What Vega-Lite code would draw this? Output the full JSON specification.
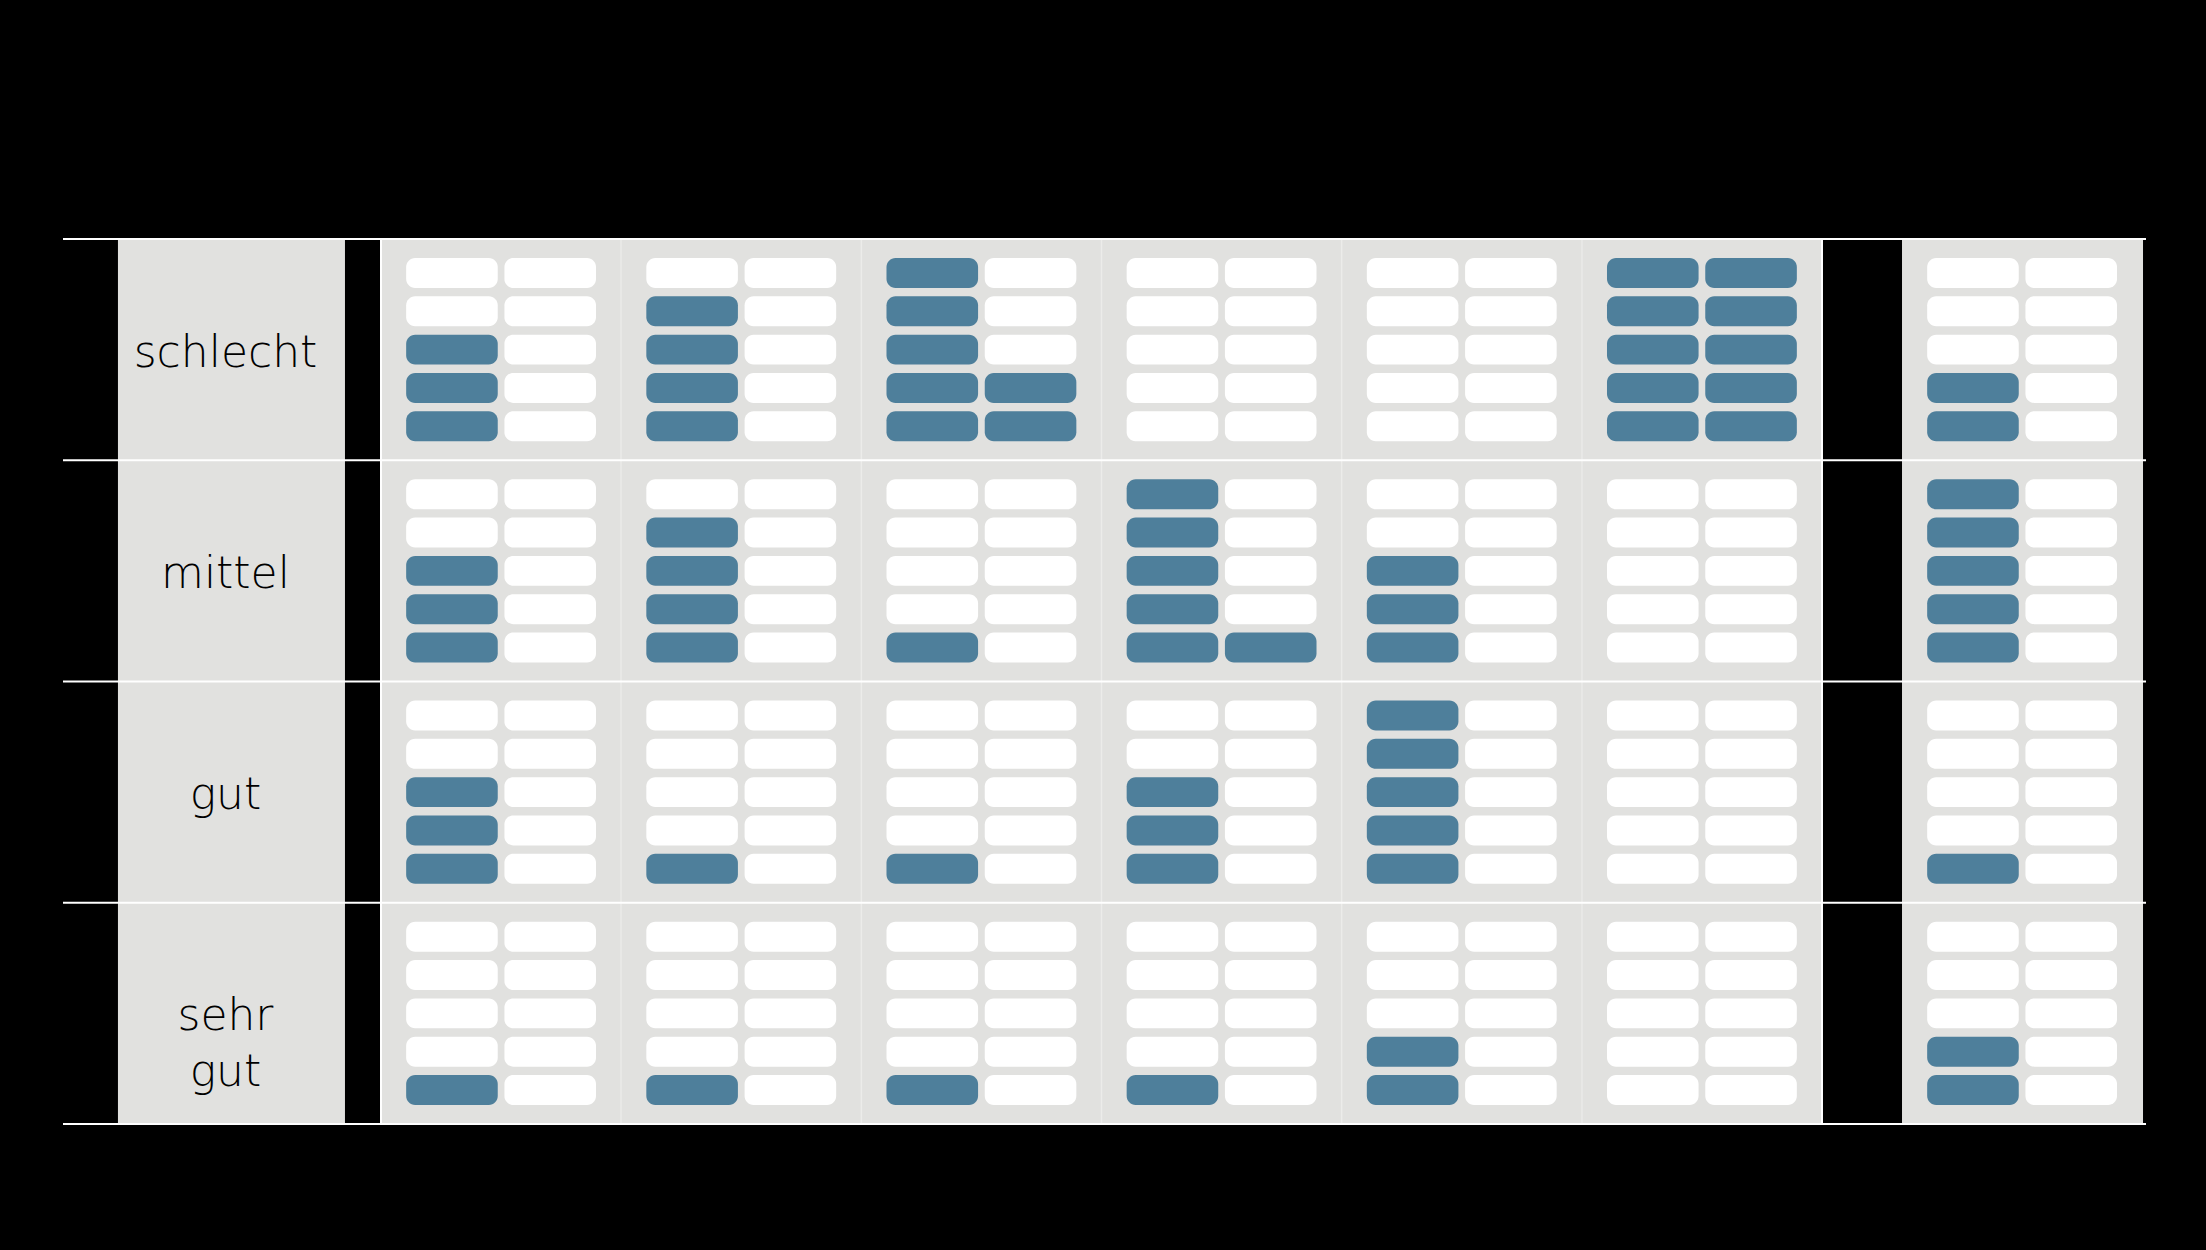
{
  "$schema": "https://vega.github.io/schema/vega-lite/v6.json",
  "background": "black",
  "padding": {"left": 23, "top": 35, "right": 59, "bottom": 38},
  "bounds": "flush",
  "spacing": 0,
  "title": {"text": "Anteil der österreichischen Gemeinden je Versorgungskategorie, 10% pro buntem Feld", "orient": "bottom", "anchor": "middle", "dx": -75, "offset": 42, "fontSize": 46, "font": "Liberation Sans Narrow, Roboto, sans-serif", "fontWeight": "normal", "color": "#000000"},
  "datasets": {
    "levels": [{"lvl": "schlecht"}, {"lvl": "mittel"}, {"lvl": "gut"}, {"lvl": "sehr gut"}],
    "pills": [
      {"cat":"Ärztinnen","lvl":"schlecht","col":1,"pos":1,"on":1},{"cat":"Ärztinnen","lvl":"schlecht","col":1,"pos":2,"on":1},{"cat":"Ärztinnen","lvl":"schlecht","col":1,"pos":3,"on":1},{"cat":"Ärztinnen","lvl":"schlecht","col":1,"pos":4,"on":0},{"cat":"Ärztinnen","lvl":"schlecht","col":1,"pos":5,"on":0},
      {"cat":"Ärztinnen","lvl":"schlecht","col":2,"pos":1,"on":0},{"cat":"Ärztinnen","lvl":"schlecht","col":2,"pos":2,"on":0},{"cat":"Ärztinnen","lvl":"schlecht","col":2,"pos":3,"on":0},{"cat":"Ärztinnen","lvl":"schlecht","col":2,"pos":4,"on":0},{"cat":"Ärztinnen","lvl":"schlecht","col":2,"pos":5,"on":0},
      {"cat":"Ärztinnen","lvl":"mittel","col":1,"pos":1,"on":1},{"cat":"Ärztinnen","lvl":"mittel","col":1,"pos":2,"on":1},{"cat":"Ärztinnen","lvl":"mittel","col":1,"pos":3,"on":1},{"cat":"Ärztinnen","lvl":"mittel","col":1,"pos":4,"on":0},{"cat":"Ärztinnen","lvl":"mittel","col":1,"pos":5,"on":0},
      {"cat":"Ärztinnen","lvl":"mittel","col":2,"pos":1,"on":0},{"cat":"Ärztinnen","lvl":"mittel","col":2,"pos":2,"on":0},{"cat":"Ärztinnen","lvl":"mittel","col":2,"pos":3,"on":0},{"cat":"Ärztinnen","lvl":"mittel","col":2,"pos":4,"on":0},{"cat":"Ärztinnen","lvl":"mittel","col":2,"pos":5,"on":0},
      {"cat":"Ärztinnen","lvl":"gut","col":1,"pos":1,"on":1},{"cat":"Ärztinnen","lvl":"gut","col":1,"pos":2,"on":1},{"cat":"Ärztinnen","lvl":"gut","col":1,"pos":3,"on":1},{"cat":"Ärztinnen","lvl":"gut","col":1,"pos":4,"on":0},{"cat":"Ärztinnen","lvl":"gut","col":1,"pos":5,"on":0},
      {"cat":"Ärztinnen","lvl":"gut","col":2,"pos":1,"on":0},{"cat":"Ärztinnen","lvl":"gut","col":2,"pos":2,"on":0},{"cat":"Ärztinnen","lvl":"gut","col":2,"pos":3,"on":0},{"cat":"Ärztinnen","lvl":"gut","col":2,"pos":4,"on":0},{"cat":"Ärztinnen","lvl":"gut","col":2,"pos":5,"on":0},
      {"cat":"Ärztinnen","lvl":"sehr gut","col":1,"pos":1,"on":1},{"cat":"Ärztinnen","lvl":"sehr gut","col":1,"pos":2,"on":0},{"cat":"Ärztinnen","lvl":"sehr gut","col":1,"pos":3,"on":0},{"cat":"Ärztinnen","lvl":"sehr gut","col":1,"pos":4,"on":0},{"cat":"Ärztinnen","lvl":"sehr gut","col":1,"pos":5,"on":0},
      {"cat":"Ärztinnen","lvl":"sehr gut","col":2,"pos":1,"on":0},{"cat":"Ärztinnen","lvl":"sehr gut","col":2,"pos":2,"on":0},{"cat":"Ärztinnen","lvl":"sehr gut","col":2,"pos":3,"on":0},{"cat":"Ärztinnen","lvl":"sehr gut","col":2,"pos":4,"on":0},{"cat":"Ärztinnen","lvl":"sehr gut","col":2,"pos":5,"on":0},

      {"cat":"Krankenhäuser","lvl":"schlecht","col":1,"pos":1,"on":1},{"cat":"Krankenhäuser","lvl":"schlecht","col":1,"pos":2,"on":1},{"cat":"Krankenhäuser","lvl":"schlecht","col":1,"pos":3,"on":1},{"cat":"Krankenhäuser","lvl":"schlecht","col":1,"pos":4,"on":1},{"cat":"Krankenhäuser","lvl":"schlecht","col":1,"pos":5,"on":0},
      {"cat":"Krankenhäuser","lvl":"schlecht","col":2,"pos":1,"on":0},{"cat":"Krankenhäuser","lvl":"schlecht","col":2,"pos":2,"on":0},{"cat":"Krankenhäuser","lvl":"schlecht","col":2,"pos":3,"on":0},{"cat":"Krankenhäuser","lvl":"schlecht","col":2,"pos":4,"on":0},{"cat":"Krankenhäuser","lvl":"schlecht","col":2,"pos":5,"on":0},
      {"cat":"Krankenhäuser","lvl":"mittel","col":1,"pos":1,"on":1},{"cat":"Krankenhäuser","lvl":"mittel","col":1,"pos":2,"on":1},{"cat":"Krankenhäuser","lvl":"mittel","col":1,"pos":3,"on":1},{"cat":"Krankenhäuser","lvl":"mittel","col":1,"pos":4,"on":1},{"cat":"Krankenhäuser","lvl":"mittel","col":1,"pos":5,"on":0},
      {"cat":"Krankenhäuser","lvl":"mittel","col":2,"pos":1,"on":0},{"cat":"Krankenhäuser","lvl":"mittel","col":2,"pos":2,"on":0},{"cat":"Krankenhäuser","lvl":"mittel","col":2,"pos":3,"on":0},{"cat":"Krankenhäuser","lvl":"mittel","col":2,"pos":4,"on":0},{"cat":"Krankenhäuser","lvl":"mittel","col":2,"pos":5,"on":0},
      {"cat":"Krankenhäuser","lvl":"gut","col":1,"pos":1,"on":1},{"cat":"Krankenhäuser","lvl":"gut","col":1,"pos":2,"on":0},{"cat":"Krankenhäuser","lvl":"gut","col":1,"pos":3,"on":0},{"cat":"Krankenhäuser","lvl":"gut","col":1,"pos":4,"on":0},{"cat":"Krankenhäuser","lvl":"gut","col":1,"pos":5,"on":0},
      {"cat":"Krankenhäuser","lvl":"gut","col":2,"pos":1,"on":0},{"cat":"Krankenhäuser","lvl":"gut","col":2,"pos":2,"on":0},{"cat":"Krankenhäuser","lvl":"gut","col":2,"pos":3,"on":0},{"cat":"Krankenhäuser","lvl":"gut","col":2,"pos":4,"on":0},{"cat":"Krankenhäuser","lvl":"gut","col":2,"pos":5,"on":0},
      {"cat":"Krankenhäuser","lvl":"sehr gut","col":1,"pos":1,"on":1},{"cat":"Krankenhäuser","lvl":"sehr gut","col":1,"pos":2,"on":0},{"cat":"Krankenhäuser","lvl":"sehr gut","col":1,"pos":3,"on":0},{"cat":"Krankenhäuser","lvl":"sehr gut","col":1,"pos":4,"on":0},{"cat":"Krankenhäuser","lvl":"sehr gut","col":1,"pos":5,"on":0},
      {"cat":"Krankenhäuser","lvl":"sehr gut","col":2,"pos":1,"on":0},{"cat":"Krankenhäuser","lvl":"sehr gut","col":2,"pos":2,"on":0},{"cat":"Krankenhäuser","lvl":"sehr gut","col":2,"pos":3,"on":0},{"cat":"Krankenhäuser","lvl":"sehr gut","col":2,"pos":4,"on":0},{"cat":"Krankenhäuser","lvl":"sehr gut","col":2,"pos":5,"on":0},

      {"cat":"Pflegeheime","lvl":"schlecht","col":1,"pos":1,"on":1},{"cat":"Pflegeheime","lvl":"schlecht","col":1,"pos":2,"on":1},{"cat":"Pflegeheime","lvl":"schlecht","col":1,"pos":3,"on":1},{"cat":"Pflegeheime","lvl":"schlecht","col":1,"pos":4,"on":1},{"cat":"Pflegeheime","lvl":"schlecht","col":1,"pos":5,"on":1},
      {"cat":"Pflegeheime","lvl":"schlecht","col":2,"pos":1,"on":1},{"cat":"Pflegeheime","lvl":"schlecht","col":2,"pos":2,"on":1},{"cat":"Pflegeheime","lvl":"schlecht","col":2,"pos":3,"on":0},{"cat":"Pflegeheime","lvl":"schlecht","col":2,"pos":4,"on":0},{"cat":"Pflegeheime","lvl":"schlecht","col":2,"pos":5,"on":0},
      {"cat":"Pflegeheime","lvl":"mittel","col":1,"pos":1,"on":1},{"cat":"Pflegeheime","lvl":"mittel","col":1,"pos":2,"on":0},{"cat":"Pflegeheime","lvl":"mittel","col":1,"pos":3,"on":0},{"cat":"Pflegeheime","lvl":"mittel","col":1,"pos":4,"on":0},{"cat":"Pflegeheime","lvl":"mittel","col":1,"pos":5,"on":0},
      {"cat":"Pflegeheime","lvl":"mittel","col":2,"pos":1,"on":0},{"cat":"Pflegeheime","lvl":"mittel","col":2,"pos":2,"on":0},{"cat":"Pflegeheime","lvl":"mittel","col":2,"pos":3,"on":0},{"cat":"Pflegeheime","lvl":"mittel","col":2,"pos":4,"on":0},{"cat":"Pflegeheime","lvl":"mittel","col":2,"pos":5,"on":0},
      {"cat":"Pflegeheime","lvl":"gut","col":1,"pos":1,"on":1},{"cat":"Pflegeheime","lvl":"gut","col":1,"pos":2,"on":0},{"cat":"Pflegeheime","lvl":"gut","col":1,"pos":3,"on":0},{"cat":"Pflegeheime","lvl":"gut","col":1,"pos":4,"on":0},{"cat":"Pflegeheime","lvl":"gut","col":1,"pos":5,"on":0},
      {"cat":"Pflegeheime","lvl":"gut","col":2,"pos":1,"on":0},{"cat":"Pflegeheime","lvl":"gut","col":2,"pos":2,"on":0},{"cat":"Pflegeheime","lvl":"gut","col":2,"pos":3,"on":0},{"cat":"Pflegeheime","lvl":"gut","col":2,"pos":4,"on":0},{"cat":"Pflegeheime","lvl":"gut","col":2,"pos":5,"on":0},
      {"cat":"Pflegeheime","lvl":"sehr gut","col":1,"pos":1,"on":1},{"cat":"Pflegeheime","lvl":"sehr gut","col":1,"pos":2,"on":0},{"cat":"Pflegeheime","lvl":"sehr gut","col":1,"pos":3,"on":0},{"cat":"Pflegeheime","lvl":"sehr gut","col":1,"pos":4,"on":0},{"cat":"Pflegeheime","lvl":"sehr gut","col":1,"pos":5,"on":0},
      {"cat":"Pflegeheime","lvl":"sehr gut","col":2,"pos":1,"on":0},{"cat":"Pflegeheime","lvl":"sehr gut","col":2,"pos":2,"on":0},{"cat":"Pflegeheime","lvl":"sehr gut","col":2,"pos":3,"on":0},{"cat":"Pflegeheime","lvl":"sehr gut","col":2,"pos":4,"on":0},{"cat":"Pflegeheime","lvl":"sehr gut","col":2,"pos":5,"on":0},

      {"cat":"Kinderbetreuung","lvl":"schlecht","col":1,"pos":1,"on":0},{"cat":"Kinderbetreuung","lvl":"schlecht","col":1,"pos":2,"on":0},{"cat":"Kinderbetreuung","lvl":"schlecht","col":1,"pos":3,"on":0},{"cat":"Kinderbetreuung","lvl":"schlecht","col":1,"pos":4,"on":0},{"cat":"Kinderbetreuung","lvl":"schlecht","col":1,"pos":5,"on":0},
      {"cat":"Kinderbetreuung","lvl":"schlecht","col":2,"pos":1,"on":0},{"cat":"Kinderbetreuung","lvl":"schlecht","col":2,"pos":2,"on":0},{"cat":"Kinderbetreuung","lvl":"schlecht","col":2,"pos":3,"on":0},{"cat":"Kinderbetreuung","lvl":"schlecht","col":2,"pos":4,"on":0},{"cat":"Kinderbetreuung","lvl":"schlecht","col":2,"pos":5,"on":0},
      {"cat":"Kinderbetreuung","lvl":"mittel","col":1,"pos":1,"on":1},{"cat":"Kinderbetreuung","lvl":"mittel","col":1,"pos":2,"on":1},{"cat":"Kinderbetreuung","lvl":"mittel","col":1,"pos":3,"on":1},{"cat":"Kinderbetreuung","lvl":"mittel","col":1,"pos":4,"on":1},{"cat":"Kinderbetreuung","lvl":"mittel","col":1,"pos":5,"on":1},
      {"cat":"Kinderbetreuung","lvl":"mittel","col":2,"pos":1,"on":1},{"cat":"Kinderbetreuung","lvl":"mittel","col":2,"pos":2,"on":0},{"cat":"Kinderbetreuung","lvl":"mittel","col":2,"pos":3,"on":0},{"cat":"Kinderbetreuung","lvl":"mittel","col":2,"pos":4,"on":0},{"cat":"Kinderbetreuung","lvl":"mittel","col":2,"pos":5,"on":0},
      {"cat":"Kinderbetreuung","lvl":"gut","col":1,"pos":1,"on":1},{"cat":"Kinderbetreuung","lvl":"gut","col":1,"pos":2,"on":1},{"cat":"Kinderbetreuung","lvl":"gut","col":1,"pos":3,"on":1},{"cat":"Kinderbetreuung","lvl":"gut","col":1,"pos":4,"on":0},{"cat":"Kinderbetreuung","lvl":"gut","col":1,"pos":5,"on":0},
      {"cat":"Kinderbetreuung","lvl":"gut","col":2,"pos":1,"on":0},{"cat":"Kinderbetreuung","lvl":"gut","col":2,"pos":2,"on":0},{"cat":"Kinderbetreuung","lvl":"gut","col":2,"pos":3,"on":0},{"cat":"Kinderbetreuung","lvl":"gut","col":2,"pos":4,"on":0},{"cat":"Kinderbetreuung","lvl":"gut","col":2,"pos":5,"on":0},
      {"cat":"Kinderbetreuung","lvl":"sehr gut","col":1,"pos":1,"on":1},{"cat":"Kinderbetreuung","lvl":"sehr gut","col":1,"pos":2,"on":0},{"cat":"Kinderbetreuung","lvl":"sehr gut","col":1,"pos":3,"on":0},{"cat":"Kinderbetreuung","lvl":"sehr gut","col":1,"pos":4,"on":0},{"cat":"Kinderbetreuung","lvl":"sehr gut","col":1,"pos":5,"on":0},
      {"cat":"Kinderbetreuung","lvl":"sehr gut","col":2,"pos":1,"on":0},{"cat":"Kinderbetreuung","lvl":"sehr gut","col":2,"pos":2,"on":0},{"cat":"Kinderbetreuung","lvl":"sehr gut","col":2,"pos":3,"on":0},{"cat":"Kinderbetreuung","lvl":"sehr gut","col":2,"pos":4,"on":0},{"cat":"Kinderbetreuung","lvl":"sehr gut","col":2,"pos":5,"on":0},

      {"cat":"Schulen","lvl":"schlecht","col":1,"pos":1,"on":0},{"cat":"Schulen","lvl":"schlecht","col":1,"pos":2,"on":0},{"cat":"Schulen","lvl":"schlecht","col":1,"pos":3,"on":0},{"cat":"Schulen","lvl":"schlecht","col":1,"pos":4,"on":0},{"cat":"Schulen","lvl":"schlecht","col":1,"pos":5,"on":0},
      {"cat":"Schulen","lvl":"schlecht","col":2,"pos":1,"on":0},{"cat":"Schulen","lvl":"schlecht","col":2,"pos":2,"on":0},{"cat":"Schulen","lvl":"schlecht","col":2,"pos":3,"on":0},{"cat":"Schulen","lvl":"schlecht","col":2,"pos":4,"on":0},{"cat":"Schulen","lvl":"schlecht","col":2,"pos":5,"on":0},
      {"cat":"Schulen","lvl":"mittel","col":1,"pos":1,"on":1},{"cat":"Schulen","lvl":"mittel","col":1,"pos":2,"on":1},{"cat":"Schulen","lvl":"mittel","col":1,"pos":3,"on":1},{"cat":"Schulen","lvl":"mittel","col":1,"pos":4,"on":0},{"cat":"Schulen","lvl":"mittel","col":1,"pos":5,"on":0},
      {"cat":"Schulen","lvl":"mittel","col":2,"pos":1,"on":0},{"cat":"Schulen","lvl":"mittel","col":2,"pos":2,"on":0},{"cat":"Schulen","lvl":"mittel","col":2,"pos":3,"on":0},{"cat":"Schulen","lvl":"mittel","col":2,"pos":4,"on":0},{"cat":"Schulen","lvl":"mittel","col":2,"pos":5,"on":0},
      {"cat":"Schulen","lvl":"gut","col":1,"pos":1,"on":1},{"cat":"Schulen","lvl":"gut","col":1,"pos":2,"on":1},{"cat":"Schulen","lvl":"gut","col":1,"pos":3,"on":1},{"cat":"Schulen","lvl":"gut","col":1,"pos":4,"on":1},{"cat":"Schulen","lvl":"gut","col":1,"pos":5,"on":1},
      {"cat":"Schulen","lvl":"gut","col":2,"pos":1,"on":0},{"cat":"Schulen","lvl":"gut","col":2,"pos":2,"on":0},{"cat":"Schulen","lvl":"gut","col":2,"pos":3,"on":0},{"cat":"Schulen","lvl":"gut","col":2,"pos":4,"on":0},{"cat":"Schulen","lvl":"gut","col":2,"pos":5,"on":0},
      {"cat":"Schulen","lvl":"sehr gut","col":1,"pos":1,"on":1},{"cat":"Schulen","lvl":"sehr gut","col":1,"pos":2,"on":1},{"cat":"Schulen","lvl":"sehr gut","col":1,"pos":3,"on":0},{"cat":"Schulen","lvl":"sehr gut","col":1,"pos":4,"on":0},{"cat":"Schulen","lvl":"sehr gut","col":1,"pos":5,"on":0},
      {"cat":"Schulen","lvl":"sehr gut","col":2,"pos":1,"on":0},{"cat":"Schulen","lvl":"sehr gut","col":2,"pos":2,"on":0},{"cat":"Schulen","lvl":"sehr gut","col":2,"pos":3,"on":0},{"cat":"Schulen","lvl":"sehr gut","col":2,"pos":4,"on":0},{"cat":"Schulen","lvl":"sehr gut","col":2,"pos":5,"on":0},

      {"cat":"Sozialeinrichtungen","lvl":"schlecht","col":1,"pos":1,"on":1},{"cat":"Sozialeinrichtungen","lvl":"schlecht","col":1,"pos":2,"on":1},{"cat":"Sozialeinrichtungen","lvl":"schlecht","col":1,"pos":3,"on":1},{"cat":"Sozialeinrichtungen","lvl":"schlecht","col":1,"pos":4,"on":1},{"cat":"Sozialeinrichtungen","lvl":"schlecht","col":1,"pos":5,"on":1},
      {"cat":"Sozialeinrichtungen","lvl":"schlecht","col":2,"pos":1,"on":1},{"cat":"Sozialeinrichtungen","lvl":"schlecht","col":2,"pos":2,"on":1},{"cat":"Sozialeinrichtungen","lvl":"schlecht","col":2,"pos":3,"on":1},{"cat":"Sozialeinrichtungen","lvl":"schlecht","col":2,"pos":4,"on":1},{"cat":"Sozialeinrichtungen","lvl":"schlecht","col":2,"pos":5,"on":1},
      {"cat":"Sozialeinrichtungen","lvl":"mittel","col":1,"pos":1,"on":0},{"cat":"Sozialeinrichtungen","lvl":"mittel","col":1,"pos":2,"on":0},{"cat":"Sozialeinrichtungen","lvl":"mittel","col":1,"pos":3,"on":0},{"cat":"Sozialeinrichtungen","lvl":"mittel","col":1,"pos":4,"on":0},{"cat":"Sozialeinrichtungen","lvl":"mittel","col":1,"pos":5,"on":0},
      {"cat":"Sozialeinrichtungen","lvl":"mittel","col":2,"pos":1,"on":0},{"cat":"Sozialeinrichtungen","lvl":"mittel","col":2,"pos":2,"on":0},{"cat":"Sozialeinrichtungen","lvl":"mittel","col":2,"pos":3,"on":0},{"cat":"Sozialeinrichtungen","lvl":"mittel","col":2,"pos":4,"on":0},{"cat":"Sozialeinrichtungen","lvl":"mittel","col":2,"pos":5,"on":0},
      {"cat":"Sozialeinrichtungen","lvl":"gut","col":1,"pos":1,"on":0},{"cat":"Sozialeinrichtungen","lvl":"gut","col":1,"pos":2,"on":0},{"cat":"Sozialeinrichtungen","lvl":"gut","col":1,"pos":3,"on":0},{"cat":"Sozialeinrichtungen","lvl":"gut","col":1,"pos":4,"on":0},{"cat":"Sozialeinrichtungen","lvl":"gut","col":1,"pos":5,"on":0},
      {"cat":"Sozialeinrichtungen","lvl":"gut","col":2,"pos":1,"on":0},{"cat":"Sozialeinrichtungen","lvl":"gut","col":2,"pos":2,"on":0},{"cat":"Sozialeinrichtungen","lvl":"gut","col":2,"pos":3,"on":0},{"cat":"Sozialeinrichtungen","lvl":"gut","col":2,"pos":4,"on":0},{"cat":"Sozialeinrichtungen","lvl":"gut","col":2,"pos":5,"on":0},
      {"cat":"Sozialeinrichtungen","lvl":"sehr gut","col":1,"pos":1,"on":0},{"cat":"Sozialeinrichtungen","lvl":"sehr gut","col":1,"pos":2,"on":0},{"cat":"Sozialeinrichtungen","lvl":"sehr gut","col":1,"pos":3,"on":0},{"cat":"Sozialeinrichtungen","lvl":"sehr gut","col":1,"pos":4,"on":0},{"cat":"Sozialeinrichtungen","lvl":"sehr gut","col":1,"pos":5,"on":0},
      {"cat":"Sozialeinrichtungen","lvl":"sehr gut","col":2,"pos":1,"on":0},{"cat":"Sozialeinrichtungen","lvl":"sehr gut","col":2,"pos":2,"on":0},{"cat":"Sozialeinrichtungen","lvl":"sehr gut","col":2,"pos":3,"on":0},{"cat":"Sozialeinrichtungen","lvl":"sehr gut","col":2,"pos":4,"on":0},{"cat":"Sozialeinrichtungen","lvl":"sehr gut","col":2,"pos":5,"on":0},

      {"cat":"Gesamt","lvl":"schlecht","col":1,"pos":1,"on":1},{"cat":"Gesamt","lvl":"schlecht","col":1,"pos":2,"on":1},{"cat":"Gesamt","lvl":"schlecht","col":1,"pos":3,"on":0},{"cat":"Gesamt","lvl":"schlecht","col":1,"pos":4,"on":0},{"cat":"Gesamt","lvl":"schlecht","col":1,"pos":5,"on":0},
      {"cat":"Gesamt","lvl":"schlecht","col":2,"pos":1,"on":0},{"cat":"Gesamt","lvl":"schlecht","col":2,"pos":2,"on":0},{"cat":"Gesamt","lvl":"schlecht","col":2,"pos":3,"on":0},{"cat":"Gesamt","lvl":"schlecht","col":2,"pos":4,"on":0},{"cat":"Gesamt","lvl":"schlecht","col":2,"pos":5,"on":0},
      {"cat":"Gesamt","lvl":"mittel","col":1,"pos":1,"on":1},{"cat":"Gesamt","lvl":"mittel","col":1,"pos":2,"on":1},{"cat":"Gesamt","lvl":"mittel","col":1,"pos":3,"on":1},{"cat":"Gesamt","lvl":"mittel","col":1,"pos":4,"on":1},{"cat":"Gesamt","lvl":"mittel","col":1,"pos":5,"on":1},
      {"cat":"Gesamt","lvl":"mittel","col":2,"pos":1,"on":0},{"cat":"Gesamt","lvl":"mittel","col":2,"pos":2,"on":0},{"cat":"Gesamt","lvl":"mittel","col":2,"pos":3,"on":0},{"cat":"Gesamt","lvl":"mittel","col":2,"pos":4,"on":0},{"cat":"Gesamt","lvl":"mittel","col":2,"pos":5,"on":0},
      {"cat":"Gesamt","lvl":"gut","col":1,"pos":1,"on":1},{"cat":"Gesamt","lvl":"gut","col":1,"pos":2,"on":0},{"cat":"Gesamt","lvl":"gut","col":1,"pos":3,"on":0},{"cat":"Gesamt","lvl":"gut","col":1,"pos":4,"on":0},{"cat":"Gesamt","lvl":"gut","col":1,"pos":5,"on":0},
      {"cat":"Gesamt","lvl":"gut","col":2,"pos":1,"on":0},{"cat":"Gesamt","lvl":"gut","col":2,"pos":2,"on":0},{"cat":"Gesamt","lvl":"gut","col":2,"pos":3,"on":0},{"cat":"Gesamt","lvl":"gut","col":2,"pos":4,"on":0},{"cat":"Gesamt","lvl":"gut","col":2,"pos":5,"on":0},
      {"cat":"Gesamt","lvl":"sehr gut","col":1,"pos":1,"on":1},{"cat":"Gesamt","lvl":"sehr gut","col":1,"pos":2,"on":1},{"cat":"Gesamt","lvl":"sehr gut","col":1,"pos":3,"on":0},{"cat":"Gesamt","lvl":"sehr gut","col":1,"pos":4,"on":0},{"cat":"Gesamt","lvl":"sehr gut","col":1,"pos":5,"on":0},
      {"cat":"Gesamt","lvl":"sehr gut","col":2,"pos":1,"on":0},{"cat":"Gesamt","lvl":"sehr gut","col":2,"pos":2,"on":0},{"cat":"Gesamt","lvl":"sehr gut","col":2,"pos":3,"on":0},{"cat":"Gesamt","lvl":"sehr gut","col":2,"pos":4,"on":0},{"cat":"Gesamt","lvl":"sehr gut","col":2,"pos":5,"on":0}
    ]
  },
  "hconcat": [
    {
      "width": 318, "height": 885,
      "data": {"name": "levels"},
      "layer": [
        {"mark": {"type": "rect", "fill": "#e1e1df"},
         "encoding": {
           "x": {"datum": "Stufe", "type": "nominal", "scale": {"domain": ["Stufe"], "paddingInner": 0, "paddingOuter": 0.2004, "align": 0.604}, "axis": null},
           "y": {"field": "lvl", "type": "ordinal", "scale": {"domain": ["schlecht", "mittel", "gut", "sehr gut"], "paddingInner": 0, "paddingOuter": 0},
                 "axis": {"title": "soziale Infrastrukturversorgung", "labels": false, "ticks": false, "domain": false, "grid": false, "titleFontSize": 48, "titleFont": "Liberation Sans Narrow, Roboto, sans-serif", "titleFontWeight": "normal", "titleColor": "#000000", "titlePadding": -8}}}},
        {"mark": {"type": "rule", "color": "#ffffff", "strokeWidth": 2},
         "encoding": {
           "y": {"field": "lvl", "type": "ordinal", "bandPosition": 0, "scale": {"domain": ["schlecht", "mittel", "gut", "sehr gut"], "paddingInner": 0, "paddingOuter": 0},
                 "axis": {"title": "soziale Infrastrukturversorgung", "labels": false, "ticks": false, "domain": false, "grid": false, "titleFontSize": 48, "titleFont": "Liberation Sans Narrow, Roboto, sans-serif", "titleFontWeight": "normal", "titleColor": "#000000", "titlePadding": -8}}}},
        {"transform": [{"filter": "datum.lvl === 'sehr gut'"}],
         "mark": {"type": "rule", "color": "#ffffff", "strokeWidth": 2},
         "encoding": {
           "y": {"field": "lvl", "type": "ordinal", "bandPosition": 1, "scale": {"domain": ["schlecht", "mittel", "gut", "sehr gut"], "paddingInner": 0, "paddingOuter": 0},
                 "axis": {"title": "soziale Infrastrukturversorgung", "labels": false, "ticks": false, "domain": false, "grid": false, "titleFontSize": 48, "titleFont": "Liberation Sans Narrow, Roboto, sans-serif", "titleFontWeight": "normal", "titleColor": "#000000", "titlePadding": -8}}}},
        {"mark": {"type": "text", "font": "DejaVu Sans", "fontSize": 44, "fontWeight": 200, "color": "#000000", "align": "center", "baseline": "middle", "dx": -6, "dy": 4, "lineBreak": " ", "lineHeight": 56},
         "encoding": {
           "x": {"datum": "Stufe", "type": "nominal", "scale": {"domain": ["Stufe"], "paddingInner": 0, "paddingOuter": 0.2004, "align": 0.604}, "axis": null},
           "y": {"field": "lvl", "type": "ordinal", "scale": {"domain": ["schlecht", "mittel", "gut", "sehr gut"], "paddingInner": 0, "paddingOuter": 0},
                 "axis": {"title": "soziale Infrastrukturversorgung", "labels": false, "ticks": false, "domain": false, "grid": false, "titleFontSize": 48, "titleFont": "Liberation Sans Narrow, Roboto, sans-serif", "titleFontWeight": "normal", "titleColor": "#000000", "titlePadding": -8}},
           "text": {"field": "lvl"}}}
      ]
    },
    {
      "width": 1441, "height": 885,
      "data": {"name": "pills"},
      "transform": [{"filter": "datum.cat !== 'Gesamt'"}],
      "layer": [
        {"transform": [{"aggregate": [{"op": "count", "as": "n"}], "groupby": ["cat", "lvl"]}],
         "mark": {"type": "rect", "fill": "#e1e1df"},
         "encoding": {
           "x": {"field": "cat", "type": "nominal", "scale": {"domain": ["Ärztinnen", "Krankenhäuser", "Pflegeheime", "Kinderbetreuung", "Schulen", "Sozialeinrichtungen"], "paddingInner": 0, "paddingOuter": 0},
                 "axis": {"orient": "top", "title": null, "domain": false, "ticks": false, "grid": false, "labelAngle": -40, "labelAlign": "left", "labelBaseline": "middle", "labelPadding": 34, "labelOffset": -45, "labelFontSize": 32, "labelFont": "Open Sans", "labelFontWeight": 300, "labelColor": "#000000", "labelLimit": 0, "labelOverlap": false, "labelLineHeight": 36, "labelExpr": "datum.value === 'Sozialeinrichtungen' ? ['Sozial-', 'einrichtungen'] : datum.label"}},
           "y": {"field": "lvl", "type": "ordinal", "scale": {"domain": ["schlecht", "mittel", "gut", "sehr gut"], "paddingInner": 0, "paddingOuter": 0}, "axis": null}}},
        {"transform": [{"aggregate": [{"op": "count", "as": "n"}], "groupby": ["cat"]}, {"filter": "datum.cat !== 'Ärztinnen'"}],
         "mark": {"type": "rule", "color": "#ececea", "strokeWidth": 1.5},
         "encoding": {
           "x": {"field": "cat", "type": "nominal", "bandPosition": 0, "scale": {"domain": ["Ärztinnen", "Krankenhäuser", "Pflegeheime", "Kinderbetreuung", "Schulen", "Sozialeinrichtungen"], "paddingInner": 0, "paddingOuter": 0},
                 "axis": {"orient": "top", "title": null, "domain": false, "ticks": false, "grid": false, "labelAngle": -40, "labelAlign": "left", "labelBaseline": "middle", "labelPadding": 34, "labelOffset": -45, "labelFontSize": 32, "labelFont": "Open Sans", "labelFontWeight": 300, "labelColor": "#000000", "labelLimit": 0, "labelOverlap": false, "labelLineHeight": 36, "labelExpr": "datum.value === 'Sozialeinrichtungen' ? ['Sozial-', 'einrichtungen'] : datum.label"}}}},
        {"mark": {"type": "rect", "cornerRadius": 9},
         "encoding": {
           "x": {"field": "cat", "type": "nominal", "scale": {"domain": ["Ärztinnen", "Krankenhäuser", "Pflegeheime", "Kinderbetreuung", "Schulen", "Sozialeinrichtungen"], "paddingInner": 0, "paddingOuter": 0},
                 "axis": {"orient": "top", "title": null, "domain": false, "ticks": false, "grid": false, "labelAngle": -40, "labelAlign": "left", "labelBaseline": "middle", "labelPadding": 34, "labelOffset": -45, "labelFontSize": 32, "labelFont": "Open Sans", "labelFontWeight": 300, "labelColor": "#000000", "labelLimit": 0, "labelOverlap": false, "labelLineHeight": 36, "labelExpr": "datum.value === 'Sozialeinrichtungen' ? ['Sozial-', 'einrichtungen'] : datum.label"}},
           "xOffset": {"field": "col", "type": "ordinal", "scale": {"domain": [1, 2], "paddingInner": 0.068, "paddingOuter": 0.256}},
           "y": {"field": "lvl", "type": "ordinal", "scale": {"domain": ["schlecht", "mittel", "gut", "sehr gut"], "paddingInner": 0, "paddingOuter": 0}, "axis": null},
           "yOffset": {"field": "pos", "type": "ordinal", "scale": {"domain": [5, 4, 3, 2, 1], "paddingInner": 0.217, "paddingOuter": 0.497}},
           "color": {"field": "on", "type": "nominal", "scale": {"domain": [0, 1], "range": ["#ffffff", "#4e7f9b"]}, "legend": null}}},
        {"transform": [{"aggregate": [{"op": "count", "as": "n"}], "groupby": ["lvl"]}],
         "mark": {"type": "rule", "color": "#ffffff", "strokeWidth": 2},
         "encoding": {
           "y": {"field": "lvl", "type": "ordinal", "bandPosition": 0, "scale": {"domain": ["schlecht", "mittel", "gut", "sehr gut"], "paddingInner": 0, "paddingOuter": 0}, "axis": null}}},
        {"transform": [{"filter": "datum.lvl === 'sehr gut'"}, {"aggregate": [{"op": "count", "as": "n"}], "groupby": ["lvl"]}],
         "mark": {"type": "rule", "color": "#ffffff", "strokeWidth": 2},
         "encoding": {
           "y": {"field": "lvl", "type": "ordinal", "bandPosition": 1, "scale": {"domain": ["schlecht", "mittel", "gut", "sehr gut"], "paddingInner": 0, "paddingOuter": 0}, "axis": null}}},
        {"transform": [{"filter": "datum.cat === 'Ärztinnen'"}, {"aggregate": [{"op": "count", "as": "n"}], "groupby": ["cat"]}],
         "mark": {"type": "rule", "color": "#ffffff", "strokeWidth": 2},
         "encoding": {
           "x": {"field": "cat", "type": "nominal", "bandPosition": 0, "scale": {"domain": ["Ärztinnen", "Krankenhäuser", "Pflegeheime", "Kinderbetreuung", "Schulen", "Sozialeinrichtungen"], "paddingInner": 0, "paddingOuter": 0},
                 "axis": {"orient": "top", "title": null, "domain": false, "ticks": false, "grid": false, "labelAngle": -40, "labelAlign": "left", "labelBaseline": "middle", "labelPadding": 34, "labelOffset": -45, "labelFontSize": 32, "labelFont": "Open Sans", "labelFontWeight": 300, "labelColor": "#000000", "labelLimit": 0, "labelOverlap": false, "labelLineHeight": 36, "labelExpr": "datum.value === 'Sozialeinrichtungen' ? ['Sozial-', 'einrichtungen'] : datum.label"}}}},
        {"transform": [{"filter": "datum.cat === 'Sozialeinrichtungen'"}, {"aggregate": [{"op": "count", "as": "n"}], "groupby": ["cat"]}],
         "mark": {"type": "rule", "color": "#ffffff", "strokeWidth": 2},
         "encoding": {
           "x": {"field": "cat", "type": "nominal", "bandPosition": 1, "scale": {"domain": ["Ärztinnen", "Krankenhäuser", "Pflegeheime", "Kinderbetreuung", "Schulen", "Sozialeinrichtungen"], "paddingInner": 0, "paddingOuter": 0},
                 "axis": {"orient": "top", "title": null, "domain": false, "ticks": false, "grid": false, "labelAngle": -40, "labelAlign": "left", "labelBaseline": "middle", "labelPadding": 34, "labelOffset": -45, "labelFontSize": 32, "labelFont": "Open Sans", "labelFontWeight": 300, "labelColor": "#000000", "labelLimit": 0, "labelOverlap": false, "labelLineHeight": 36, "labelExpr": "datum.value === 'Sozialeinrichtungen' ? ['Sozial-', 'einrichtungen'] : datum.label"}}}}
      ]
    },
    {
      "width": 324, "height": 885,
      "data": {"name": "pills"},
      "transform": [{"filter": "datum.cat === 'Gesamt'"}],
      "layer": [
        {"transform": [{"aggregate": [{"op": "count", "as": "n"}], "groupby": ["cat", "lvl"]}],
         "mark": {"type": "rect", "fill": "#e1e1df"},
         "encoding": {
           "x": {"field": "cat", "type": "nominal", "scale": {"domain": ["Gesamt"], "paddingInner": 0, "paddingOuter": 0.1722, "align": 0.964},
                 "axis": {"orient": "top", "title": null, "domain": false, "ticks": false, "grid": false, "labelAngle": -40, "labelAlign": "left", "labelBaseline": "middle", "labelPadding": 34, "labelOffset": -55, "labelFontSize": 32, "labelFont": "Open Sans", "labelFontWeight": 300, "labelColor": "#000000", "labelLimit": 0, "labelOverlap": false}},
           "y": {"field": "lvl", "type": "ordinal", "scale": {"domain": ["schlecht", "mittel", "gut", "sehr gut"], "paddingInner": 0, "paddingOuter": 0}, "axis": null}}},
        {"mark": {"type": "rect", "cornerRadius": 9},
         "encoding": {
           "x": {"field": "cat", "type": "nominal", "scale": {"domain": ["Gesamt"], "paddingInner": 0, "paddingOuter": 0.1722, "align": 0.964},
                 "axis": {"orient": "top", "title": null, "domain": false, "ticks": false, "grid": false, "labelAngle": -40, "labelAlign": "left", "labelBaseline": "middle", "labelPadding": 34, "labelOffset": -55, "labelFontSize": 32, "labelFont": "Open Sans", "labelFontWeight": 300, "labelColor": "#000000", "labelLimit": 0, "labelOverlap": false}},
           "xOffset": {"field": "col", "type": "ordinal", "scale": {"domain": [1, 2], "paddingInner": 0.068, "paddingOuter": 0.256}},
           "y": {"field": "lvl", "type": "ordinal", "scale": {"domain": ["schlecht", "mittel", "gut", "sehr gut"], "paddingInner": 0, "paddingOuter": 0}, "axis": null},
           "yOffset": {"field": "pos", "type": "ordinal", "scale": {"domain": [5, 4, 3, 2, 1], "paddingInner": 0.217, "paddingOuter": 0.497}},
           "color": {"field": "on", "type": "nominal", "scale": {"domain": [0, 1], "range": ["#ffffff", "#4e7f9b"]}, "legend": null}}},
        {"transform": [{"aggregate": [{"op": "count", "as": "n"}], "groupby": ["lvl"]}],
         "mark": {"type": "rule", "color": "#ffffff", "strokeWidth": 2},
         "encoding": {
           "y": {"field": "lvl", "type": "ordinal", "bandPosition": 0, "scale": {"domain": ["schlecht", "mittel", "gut", "sehr gut"], "paddingInner": 0, "paddingOuter": 0}, "axis": null}}},
        {"transform": [{"filter": "datum.lvl === 'sehr gut'"}, {"aggregate": [{"op": "count", "as": "n"}], "groupby": ["lvl"]}],
         "mark": {"type": "rule", "color": "#ffffff", "strokeWidth": 2},
         "encoding": {
           "y": {"field": "lvl", "type": "ordinal", "bandPosition": 1, "scale": {"domain": ["schlecht", "mittel", "gut", "sehr gut"], "paddingInner": 0, "paddingOuter": 0}, "axis": null}}}
      ]
    }
  ],
  "config": {"view": {"stroke": null, "fill": null}, "font": "DejaVu Sans"}
}
